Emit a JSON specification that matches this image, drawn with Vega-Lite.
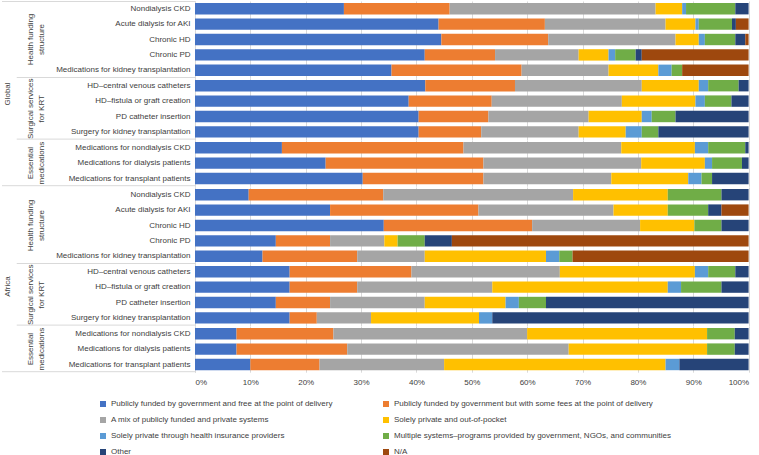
{
  "$schema": "https://vega.github.io/schema/vega-lite/v6.json",
  "padding": {"left": 1, "top": 1, "right": 8, "bottom": 0},
  "background": "white",
  "config": {
    "font": "Liberation Sans",
    "view": {"stroke": null},
    "axis": {"labelFontSize": 8, "labelColor": "#404040", "titleFontSize": 8},
    "header": {"labelFontSize": 8, "labelColor": "#404040"},
    "title": {"fontSize": 8, "fontWeight": "normal", "color": "#404040"}
  },
  "datasets": {
    "rows": [
      {"region": "Global", "group": "Health funding structure", "item": "Nondialysis CKD", "a": 26.9, "b": 19.1, "c": 37.2, "d": 4.8, "e": 0.7, "f": 8.9, "g": 2.4, "h": 0},
      {"region": "Global", "group": "Health funding structure", "item": "Acute dialysis for AKI", "a": 44.0, "b": 19.2, "c": 21.8, "d": 5.4, "e": 0.6, "f": 6.0, "g": 0.7, "h": 2.3},
      {"region": "Global", "group": "Health funding structure", "item": "Chronic HD", "a": 44.5, "b": 19.3, "c": 23.0, "d": 4.2, "e": 1.1, "f": 5.5, "g": 1.8, "h": 0.6},
      {"region": "Global", "group": "Health funding structure", "item": "Chronic PD", "a": 41.5, "b": 12.7, "c": 15.1, "d": 5.4, "e": 1.2, "f": 3.7, "g": 1.1, "h": 19.3},
      {"region": "Global", "group": "Health funding structure", "item": "Medications for kidney transplantation", "a": 35.5, "b": 23.5, "c": 15.7, "d": 9.0, "e": 2.4, "f": 1.9, "g": 0, "h": 12.0},
      {"region": "Global", "group": "Surgical services for KRT", "item": "HD–central venous catheters", "a": 41.6, "b": 16.2, "c": 22.9, "d": 10.3, "e": 1.7, "f": 5.5, "g": 1.8, "h": 0},
      {"region": "Global", "group": "Surgical services for KRT", "item": "HD–fistula or graft creation", "a": 38.6, "b": 15.0, "c": 23.5, "d": 13.3, "e": 1.7, "f": 4.8, "g": 3.1, "h": 0},
      {"region": "Global", "group": "Surgical services for KRT", "item": "PD catheter insertion", "a": 40.4, "b": 12.6, "c": 18.1, "d": 9.6, "e": 1.8, "f": 4.3, "g": 13.2, "h": 0},
      {"region": "Global", "group": "Surgical services for KRT", "item": "Surgery for kidney transplantation", "a": 40.4, "b": 11.3, "c": 17.6, "d": 8.5, "e": 2.9, "f": 3.0, "g": 16.3, "h": 0},
      {"region": "Global", "group": "Essential medications", "item": "Medications for nondialysis CKD", "a": 15.7, "b": 32.8, "c": 28.5, "d": 13.3, "e": 2.4, "f": 6.7, "g": 0.6, "h": 0},
      {"region": "Global", "group": "Essential medications", "item": "Medications for dialysis patients", "a": 23.6, "b": 28.5, "c": 28.5, "d": 11.5, "e": 1.3, "f": 5.4, "g": 1.2, "h": 0},
      {"region": "Global", "group": "Essential medications", "item": "Medications for transplant patients", "a": 30.3, "b": 21.8, "c": 23.1, "d": 13.9, "e": 2.4, "f": 1.9, "g": 6.6, "h": 0},
      {"region": "Africa", "group": "Health funding structure", "item": "Nondialysis CKD", "a": 9.7, "b": 24.3, "c": 34.3, "d": 17.1, "e": 0, "f": 9.7, "g": 4.9, "h": 0},
      {"region": "Africa", "group": "Health funding structure", "item": "Acute dialysis for AKI", "a": 24.4, "b": 26.8, "c": 24.4, "d": 9.8, "e": 0, "f": 7.3, "g": 2.4, "h": 4.9},
      {"region": "Africa", "group": "Health funding structure", "item": "Chronic HD", "a": 34.1, "b": 26.8, "c": 19.5, "d": 9.8, "e": 0, "f": 4.9, "g": 4.9, "h": 0},
      {"region": "Africa", "group": "Health funding structure", "item": "Chronic PD", "a": 14.6, "b": 9.8, "c": 9.8, "d": 2.4, "e": 0, "f": 4.9, "g": 4.9, "h": 53.6},
      {"region": "Africa", "group": "Health funding structure", "item": "Medications for kidney transplantation", "a": 12.2, "b": 17.1, "c": 12.2, "d": 21.9, "e": 2.4, "f": 2.4, "g": 0, "h": 31.8},
      {"region": "Africa", "group": "Surgical services for KRT", "item": "HD–central venous catheters", "a": 17.1, "b": 22.0, "c": 26.8, "d": 24.4, "e": 2.4, "f": 4.9, "g": 2.4, "h": 0},
      {"region": "Africa", "group": "Surgical services for KRT", "item": "HD–fistula or graft creation", "a": 17.1, "b": 12.2, "c": 24.4, "d": 31.7, "e": 2.4, "f": 7.3, "g": 4.9, "h": 0},
      {"region": "Africa", "group": "Surgical services for KRT", "item": "PD catheter insertion", "a": 14.6, "b": 9.8, "c": 17.1, "d": 14.6, "e": 2.4, "f": 4.9, "g": 36.6, "h": 0},
      {"region": "Africa", "group": "Surgical services for KRT", "item": "Surgery for kidney transplantation", "a": 17.1, "b": 4.9, "c": 9.8, "d": 19.5, "e": 2.4, "f": 0, "g": 46.3, "h": 0},
      {"region": "Africa", "group": "Essential medications", "item": "Medications for nondialysis CKD", "a": 7.5, "b": 17.5, "c": 35.0, "d": 32.5, "e": 0, "f": 5.0, "g": 2.5, "h": 0},
      {"region": "Africa", "group": "Essential medications", "item": "Medications for dialysis patients", "a": 7.5, "b": 20.0, "c": 40.0, "d": 25.0, "e": 0, "f": 5.0, "g": 2.5, "h": 0},
      {"region": "Africa", "group": "Essential medications", "item": "Medications for transplant patients", "a": 10.0, "b": 12.5, "c": 22.5, "d": 40.0, "e": 2.5, "f": 0, "g": 12.5, "h": 0}
    ]
  },
  "spacing": 0,
  "resolve": {"scale": {"color": "shared"}},
  "vconcat": [
    {
      "data": {"name": "rows"},
      "transform": [
        {"filter": "datum.region === 'Global'"},
        {"fold": ["a", "b", "c", "d", "e", "f", "g", "h"], "as": ["cat", "v"]},
        {"calculate": "indexof(['a','b','c','d','e','f','g','h'], datum.cat)", "as": "ord"}
      ],
      "title": {"text": "Global", "orient": "left", "anchor": "middle", "offset": -11},
      "facet": {
        "row": {
          "field": "group",
          "sort": ["Health funding structure", "Surgical services for KRT", "Essential medications"],
          "title": null,
          "header": {
            "labelOrient": "left",
            "labelAngle": -90,
            "labelPadding": -49,
            "labelLineHeight": 11,
            "labelExpr": "datum.value === 'Health funding structure' ? ['Health funding', 'structure'] : datum.value === 'Surgical services for KRT' ? ['Surgical services', 'for KRT'] : ['Essential', 'medications']"
          }
        }
      },
      "spacing": 0,
      "resolve": {"scale": {"y": "independent"}},
      "spec": {
        "width": 553.6,
        "height": {"step": 15.4},
        "encoding": {
          "y": {
            "field": "item", "type": "nominal", "sort": null, "title": null,
            "scale": {"paddingInner": 0.26, "paddingOuter": 0.13},
            "axis": {"ticks": false, "domainColor": "#d9d9d9", "labelPadding": 5, "minExtent": 143, "maxExtent": 143, "labelLimit": 200}
          }
        },
        "layer": [
          {
            "mark": {"type": "bar"},
            "encoding": {
              "x": {
                "field": "v", "type": "quantitative", "stack": "normalize", "title": null,
                "scale": {"domain": [0, 1], "nice": false},
                "axis": {"labels": false, "ticks": false, "domain": false, "grid": true, "gridColor": "#d9d9d9", "values": [0, 0.1, 0.2, 0.3, 0.4, 0.5, 0.6, 0.7, 0.8, 0.9, 1], "minExtent": 0, "maxExtent": 0}
              },
              "color": {
                "field": "cat", "type": "nominal",
                "scale": {"domain": ["a", "b", "c", "d", "e", "f", "g", "h"], "range": ["#4472C4", "#ED7D31", "#A5A5A5", "#FFC000", "#5B9BD5", "#70AD47", "#264478", "#9E480E"]},
                "legend": {
                  "orient": "none", "legendX": -96, "legendY": 399, "direction": "horizontal", "columns": 2, "columnPadding": 49, "rowPadding": 8,
                  "title": null, "symbolType": "square", "symbolSize": 36, "labelFontSize": 8, "labelColor": "#404040", "labelLimit": 400,
                  "labelExpr": "['Publicly funded by government and free at the point of delivery', 'Publicly funded by government but with some fees at the point of delivery', 'A mix of publicly funded and private systems', 'Solely private and out-of-pocket', 'Solely private through health insurance providers', 'Multiple systems–programs provided by government, NGOs, and communities', 'Other', 'N/A'][indexof(['a','b','c','d','e','f','g','h'], datum.value)]"
                }
              },
              "order": {"field": "ord"}
            }
          },
          {
            "transform": [{"filter": "datum.cat === 'a' && (datum.item === 'Medications for kidney transplantation' || datum.item === 'Surgery for kidney transplantation')"}],
            "mark": {"type": "rule", "color": "#d9d9d9", "strokeWidth": 1, "yOffset": 1.5},
            "encoding": {
              "y": {"field": "item", "type": "nominal", "sort": null, "bandPosition": 1},
              "x": {"datum": -0.322},
              "x2": {"datum": 0}
            }
          },
          {
            "transform": [{"filter": "datum.cat === 'a' && datum.item === 'Medications for transplant patients'"}],
            "mark": {"type": "rule", "color": "#d9d9d9", "strokeWidth": 1, "yOffset": 1.5},
            "encoding": {
              "y": {"field": "item", "type": "nominal", "sort": null, "bandPosition": 1},
              "x": {"datum": -0.3486},
              "x2": {"datum": 0}
            }
          },
          {
            "transform": [{"filter": "datum.cat === 'a' && datum.item === 'Nondialysis CKD'"}],
            "mark": {"type": "rule", "color": "#d9d9d9", "strokeWidth": 1, "yOffset": -1.5},
            "encoding": {
              "y": {"field": "item", "type": "nominal", "sort": null, "bandPosition": 0},
              "x": {"datum": -0.3486},
              "x2": {"datum": 0}
            }
          }
        ]
      }
    },
    {
      "data": {"name": "rows"},
      "transform": [
        {"filter": "datum.region === 'Africa'"},
        {"fold": ["a", "b", "c", "d", "e", "f", "g", "h"], "as": ["cat", "v"]},
        {"calculate": "indexof(['a','b','c','d','e','f','g','h'], datum.cat)", "as": "ord"}
      ],
      "title": {"text": "Africa", "orient": "left", "anchor": "middle", "offset": -11},
      "facet": {
        "row": {
          "field": "group",
          "sort": ["Health funding structure", "Surgical services for KRT", "Essential medications"],
          "title": null,
          "header": {
            "labelOrient": "left",
            "labelAngle": -90,
            "labelPadding": -49,
            "labelLineHeight": 11,
            "labelExpr": "datum.value === 'Health funding structure' ? ['Health funding', 'structure'] : datum.value === 'Surgical services for KRT' ? ['Surgical services', 'for KRT'] : ['Essential', 'medications']"
          }
        }
      },
      "spacing": 0,
      "resolve": {"scale": {"y": "independent"}},
      "spec": {
        "width": 553.6,
        "height": {"step": 15.4},
        "encoding": {
          "y": {
            "field": "item", "type": "nominal", "sort": null, "title": null,
            "scale": {"paddingInner": 0.26, "paddingOuter": 0.13},
            "axis": {"ticks": false, "domainColor": "#d9d9d9", "labelPadding": 5, "minExtent": 143, "maxExtent": 143, "labelLimit": 200}
          }
        },
        "layer": [
          {
            "mark": {"type": "bar"},
            "encoding": {
              "x": {
                "field": "v", "type": "quantitative", "stack": "normalize", "title": null,
                "scale": {"domain": [0, 1], "nice": false},
                "axis": {"format": ".0%", "ticks": false, "domain": false, "grid": true, "gridColor": "#d9d9d9", "labelPadding": 5, "values": [0, 0.1, 0.2, 0.3, 0.4, 0.5, 0.6, 0.7, 0.8, 0.9, 1]}
              },
              "color": {
                "field": "cat", "type": "nominal",
                "scale": {"domain": ["a", "b", "c", "d", "e", "f", "g", "h"], "range": ["#4472C4", "#ED7D31", "#A5A5A5", "#FFC000", "#5B9BD5", "#70AD47", "#264478", "#9E480E"]},
                "legend": {
                  "orient": "none", "legendX": -96, "legendY": 399, "direction": "horizontal", "columns": 2, "columnPadding": 49, "rowPadding": 8,
                  "title": null, "symbolType": "square", "symbolSize": 36, "labelFontSize": 8, "labelColor": "#404040", "labelLimit": 400,
                  "labelExpr": "['Publicly funded by government and free at the point of delivery', 'Publicly funded by government but with some fees at the point of delivery', 'A mix of publicly funded and private systems', 'Solely private and out-of-pocket', 'Solely private through health insurance providers', 'Multiple systems–programs provided by government, NGOs, and communities', 'Other', 'N/A'][indexof(['a','b','c','d','e','f','g','h'], datum.value)]"
                }
              },
              "order": {"field": "ord"}
            }
          },
          {
            "transform": [{"filter": "datum.cat === 'a' && (datum.item === 'Medications for kidney transplantation' || datum.item === 'Surgery for kidney transplantation')"}],
            "mark": {"type": "rule", "color": "#d9d9d9", "strokeWidth": 1, "yOffset": 1.5},
            "encoding": {
              "y": {"field": "item", "type": "nominal", "sort": null, "bandPosition": 1},
              "x": {"datum": -0.322},
              "x2": {"datum": 0}
            }
          },
          {
            "transform": [{"filter": "datum.cat === 'a' && datum.item === 'Medications for transplant patients'"}],
            "mark": {"type": "rule", "color": "#d9d9d9", "strokeWidth": 1, "yOffset": 1.5},
            "encoding": {
              "y": {"field": "item", "type": "nominal", "sort": null, "bandPosition": 1},
              "x": {"datum": -0.3486},
              "x2": {"datum": 0}
            }
          }
        ]
      }
    }
  ]
}
